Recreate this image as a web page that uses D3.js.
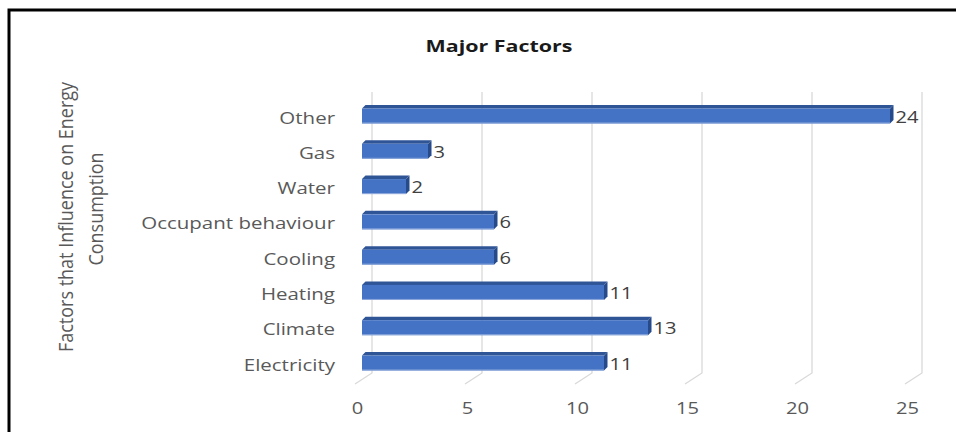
<!DOCTYPE html>
<html>
<head>
<meta charset="utf-8">
<script src="https://cdn.jsdelivr.net/npm/d3@7"></script>
<style>
  body { margin: 0; background: #fff; }
  svg { display: block; }
  text { font-family: "Open Sans", sans-serif; }
</style>
</head>
<body>
<svg id="chart" width="956" height="432"></svg>
<script>
// Data
const categories = ["Electricity", "Climate", "Heating", "Cooling", "Occupant behaviour", "Water", "Gas", "Other"];
const counts = [11, 13, 11, 6, 6, 2, 3, 24];
const xTicks = [0, 5, 10, 15, 20, 25];
const chartTitle = "Major Factors";
const axisTitleLines = ["Factors that Influence on Energy", "Consumption"];

const W = 956, H = 432;
const TEXT_STRETCH = 1.22;   // labels are drawn slightly wide
const svg = d3.select("#chart");

svg.append("rect").attr("width", W).attr("height", H).attr("fill", "#fff");

// Frame: only its top and left edges fall inside the canvas
svg.append("path")
  .attr("d", `M9,${H} V10 H${W}`)
  .attr("fill", "none").attr("stroke", "#000").attr("stroke-width", 3);

// Scales
const x = d3.scaleLinear().domain([0, 25]).range([362, 912]);
const y = d3.scalePoint().domain(categories).range([363, 116]);

// 3D wall geometry
const wallTop = 92, wallBottom = 373;
const backOffset = 10;         // back wall sits right of the front plane
const floorDx = -17, floorDy = 11;

// Gridlines: vertical on the back wall, slanted across the floor
svg.append("g").selectAll("path").data(xTicks).join("path")
  .attr("d", d => {
    const bx = x(d) + backOffset;
    return `M${bx},${wallTop} V${wallBottom} L${bx + floorDx},${wallBottom + floorDy}`;
  })
  .attr("fill", "none").attr("stroke", "#d9d9d9").attr("stroke-width", 1.3);

// Value axis labels
const xAxis = d3.axisBottom(x).tickValues(xTicks).tickSize(0).tickPadding(0).tickFormat(d3.format("d"));
const gx = svg.append("g").attr("transform", "translate(-5,414)").call(xAxis);
gx.select(".domain").remove();
gx.selectAll("text")
  .attr("y", 0).attr("dy", 0)
  .attr("fill", "#595959").attr("font-size", 16.5)
  .attr("font-family", '"Open Sans", sans-serif')
  .attr("transform", `scale(${TEXT_STRETCH},1)`);

// Category axis labels
const yAxis = d3.axisLeft(y).tickSize(0).tickPadding(0);
const gy = svg.append("g").attr("transform", "translate(335,7)").call(yAxis);
gy.select(".domain").remove();
gy.selectAll("text")
  .attr("x", 0).attr("dy", 0)
  .attr("fill", "#595959").attr("font-size", 16.8)
  .attr("font-family", '"Open Sans", sans-serif')
  .attr("transform", `scale(${TEXT_STRETCH},1)`);

// 3D bars
const rows = categories.map((c, i) => ({ cat: c, val: counts[i] }));
const half = 7.5, dx = 3.5, dy = 3.5;
const bars = svg.append("g").selectAll("g").data(rows).join("g");

// top face
bars.append("path")
  .attr("d", d => {
    const x0 = x(0), x1 = x(d.val), yc = y(d.cat);
    return `M${x0},${yc - half} L${x0 + dx},${yc - half - dy} L${x1 + dx},${yc - half - dy} L${x1},${yc - half} Z`;
  })
  .attr("fill", "#2f5597");

// side face
bars.append("path")
  .attr("d", d => {
    const x1 = x(d.val), yc = y(d.cat);
    return `M${x1},${yc - half} L${x1 + dx},${yc - half - dy} L${x1 + dx},${yc + half - dy} L${x1},${yc + half} Z`;
  })
  .attr("fill", "#264a8a");

// front face
bars.append("rect")
  .attr("x", x(0))
  .attr("y", d => y(d.cat) - half)
  .attr("width", d => x(d.val) - x(0))
  .attr("height", half * 2)
  .attr("fill", "#4472c4");

// light lower edge on the front face
bars.append("line")
  .attr("x1", x(0)).attr("x2", d => x(d.val))
  .attr("y1", d => y(d.cat) + half - 0.5).attr("y2", d => y(d.cat) + half - 0.5)
  .attr("stroke", "#8faadc").attr("stroke-width", 1);

// Value labels
bars.append("text")
  .attr("transform", d => `translate(${x(d.val) + dx + 2},${y(d.cat) + 6.5}) scale(${TEXT_STRETCH},1)`)
  .attr("fill", "#404040").attr("font-size", 16.5)
  .text(d => d.val);

// Chart title
svg.append("text")
  .attr("transform", `translate(499,52) scale(1.3,1)`)
  .attr("text-anchor", "middle")
  .attr("font-weight", 700).attr("font-size", 16.5)
  .attr("fill", "#1a1a1a")
  .text(chartTitle);

// Category axis title (two rotated lines)
const titleLinePos = [{ cx: 73, cy: 217 }, { cx: 103, cy: 209 }];
svg.append("g").selectAll("text").data(axisTitleLines).join("text")
  .attr("transform", (d, i) => `translate(${titleLinePos[i].cx},${titleLinePos[i].cy}) scale(1.15,1) rotate(-90)`)
  .attr("text-anchor", "middle")
  .attr("font-size", 18)
  .attr("fill", "#595959")
  .text(d => d);
</script>
</body>
</html>
